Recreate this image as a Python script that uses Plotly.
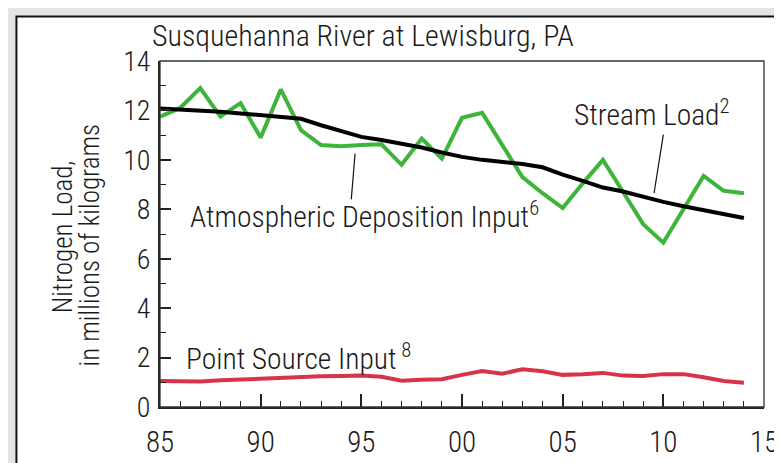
import plotly.graph_objects as go

years = list(range(1985, 2015))
atmospheric_deposition = [11.75, 12.1, 12.9, 11.75, 12.3, 10.9, 12.85, 11.2, 10.6, 10.55,
                          10.6, 10.63, 9.8, 10.86, 10.05, 11.7, 11.9, 10.6, 9.3, 8.65,
                          8.05, 9.05, 10.0, 8.7, 7.4, 6.65, 8.0, 9.35, 8.75, 8.65]
stream_load = [12.08, 12.05, 12.0, 11.95, 11.88, 11.8, 11.73, 11.66, 11.4, 11.15,
               10.93, 10.8, 10.65, 10.5, 10.3, 10.12, 10.0, 9.92, 9.83, 9.7,
               9.4, 9.15, 8.88, 8.72, 8.5, 8.3, 8.12, 7.95, 7.8, 7.65]
point_source = [1.05, 1.04, 1.03, 1.08, 1.12, 1.16, 1.17, 1.21, 1.24, 1.25,
                1.27, 1.22, 1.06, 1.1, 1.12, 1.3, 1.46, 1.35, 1.53, 1.45,
                1.3, 1.33, 1.38, 1.27, 1.25, 1.33, 1.33, 1.2, 1.05, 0.98]
x_tickvals = [1985, 1990, 1995, 2000, 2005, 2010, 2015]
x_ticktext = ["85", "90", "95", "00", "05", "10", "15"]
y_tickvals = [0, 2, 4, 6, 8, 10, 12, 14]

FONT = "Roboto Condensed, DejaVu Sans Condensed, sans-serif"
TXT = "#1a1a1a"

fig = go.Figure()
fig.add_trace(go.Scatter(x=years, y=point_source, mode="lines",
                         line=dict(color="#d6334c", width=4), showlegend=False))
fig.add_trace(go.Scatter(x=years, y=atmospheric_deposition, mode="lines",
                         line=dict(color="#3db53a", width=4), showlegend=False))
fig.add_trace(go.Scatter(x=years, y=stream_load, mode="lines",
                         line=dict(color="#000000", width=4), showlegend=False))

L, R, T, B = 152, 20, 53, 44
W, H = 782, 463
pw, ph = W - L - R, H - T - B
def px(x):
    return (x - L) / pw
def py(y):
    return (H - B - y) / ph

def label(text, x, yc, size, xshift=-10, yshift=0, angle=0, anchor="left"):
    return dict(text=text, xref="paper", yref="paper", x=px(x), y=py(yc),
                xanchor=anchor, yanchor="middle", showarrow=False,
                xshift=xshift, yshift=yshift,
                textangle=angle, font=dict(size=size, weight=300))

fig.update_layout(
    width=W, height=H,
    margin=dict(l=L, r=R, t=T, b=B),
    paper_bgcolor="#e4e4e4",
    plot_bgcolor="white",
    font=dict(family=FONT, color=TXT, size=27, weight=300),
    xaxis=dict(range=[1985, 2015], tickvals=x_tickvals, ticktext=x_ticktext,
               ticks="inside", ticklen=13, tickwidth=1.5, tickcolor="#222",
               minor=dict(ticks="inside", ticklen=6, dtick=1, tickwidth=1.2, tickcolor="#222"),
               showgrid=False, zeroline=False, showline=True, linecolor="#222", linewidth=2,
               tickfont=dict(size=29, weight=300), ticklabelstandoff=8),
    yaxis=dict(range=[0, 14], tickvals=y_tickvals,
               ticks="inside", ticklen=11, tickwidth=1.5, tickcolor="#222",
               minor=dict(ticks="inside", ticklen=6, dtick=1, tickwidth=1.2, tickcolor="#222"),
               showgrid=False, zeroline=False, showline=True, linecolor="#222", linewidth=2,
               tickfont=dict(size=28, weight=300), ticklabelstandoff=2),
    shapes=[
        dict(type="rect", xref="paper", yref="paper", layer="below",
             x0=px(7), x1=px(778), y0=py(480), y1=py(6),
             fillcolor="white", line=dict(color="#111", width=2)),
        dict(type="rect", xref="paper", yref="paper",
             x0=0, x1=1, y0=0, y1=1, line=dict(color="#333", width=1.3)),
        dict(type="line", xref="x", yref="y", x0=2010.0, y0=11.02, x1=2009.54, y1=8.66,
             line=dict(color="#111", width=1.2)),
        dict(type="line", xref="x", yref="y", x0=1994.69, y0=10.26, x1=1994.5, y1=8.40,
             line=dict(color="#111", width=1.2)),
    ],
    annotations=[
        label("Susquehanna River at Lewisburg, PA", 152, 26, 30),
        label("Nitrogen Load,", 65, 228, 27, xshift=-10, yshift=-10, angle=-90, anchor="center"),
        label("in millions of kilograms", 91, 237, 27, xshift=-10, yshift=-10, angle=-90, anchor="center"),
        label("Stream Load<sup>2</sup>", 578, 108, 29.5),
        label("Atmospheric Deposition Input<sup>6</sup>", 190, 216, 29.5),
        label("Point Source Input<sup> 8</sup>", 186, 366, 29.5),
    ],
)

fig.write_html("out.html")
